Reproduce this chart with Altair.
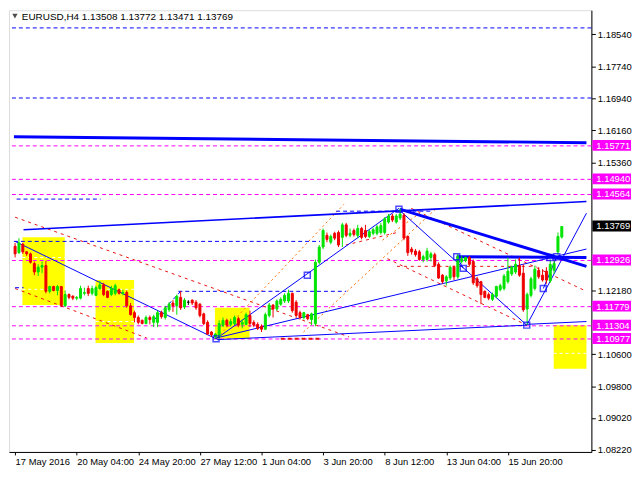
import altair as alt
import pandas as pd

# ---------------- candle data (H4 bars, index 0 = 17 May 2016 00:00) ----------------
opens = [1.1328, 1.1312, 1.1333, 1.1314, 1.1309, 1.1285, 1.1264, 1.1276, 1.1280, 1.1216,
         1.1228, 1.1218, 1.1228, 1.1180, 1.1208, 1.1204, 1.1199, 1.1199, 1.1211, 1.1223,
         1.1211, 1.1206, 1.1223, 1.1232, 1.1216, 1.1208, 1.1211, 1.1220, 1.1211, 1.1213,
         1.1180, 1.1163, 1.1151, 1.1144, 1.1136, 1.1151, 1.1139, 1.1139, 1.1163, 1.1151,
         1.1170, 1.1187, 1.1180, 1.1201, 1.1177, 1.1189, 1.1194, 1.1189, 1.1184, 1.1160,
         1.1139, 1.1115, 1.1103, 1.1103, 1.1132, 1.1144, 1.1134, 1.1136, 1.1148, 1.1134,
         1.1134, 1.1156, 1.1139, 1.1134, 1.1129, 1.1122, 1.1156, 1.1182, 1.1172, 1.1184,
         1.1192, 1.1192, 1.1211, 1.1189, 1.1163, 1.1151, 1.1158, 1.1146, 1.1136, 1.1288,
         1.1326, 1.1355, 1.1338, 1.1360, 1.1362, 1.1350, 1.1381, 1.1355, 1.1367, 1.1355,
         1.1372, 1.1367, 1.1352, 1.1360, 1.1360, 1.1362, 1.1362, 1.1388, 1.1403, 1.1388,
         1.1398, 1.1405, 1.1352, 1.1321, 1.1316, 1.1314, 1.1295, 1.1295, 1.1300, 1.1307,
         1.1283, 1.1256, 1.1242, 1.1249, 1.1276, 1.1252, 1.1290, 1.1292, 1.1300, 1.1290,
         1.1247, 1.1240, 1.1216, 1.1208, 1.1196, 1.1204, 1.1220, 1.1223, 1.1240, 1.1259,
         1.1264, 1.1280, 1.1261, 1.1172, 1.1206, 1.1223, 1.1268, 1.1256, 1.1266, 1.1242,
         1.1268, 1.1314, 1.13508]
closes = [1.1309, 1.1336, 1.1314, 1.1309, 1.1288, 1.1264, 1.1276, 1.1280, 1.1216, 1.1228,
          1.1218, 1.1228, 1.1180, 1.1208, 1.1201, 1.1199, 1.1201, 1.1223, 1.1213, 1.1211,
          1.1223, 1.1225, 1.1232, 1.1208, 1.1201, 1.1223, 1.1230, 1.1211, 1.1213, 1.1180,
          1.1158, 1.1151, 1.1139, 1.1136, 1.1151, 1.1146, 1.1153, 1.1163, 1.1153, 1.1175,
          1.1184, 1.1180, 1.1204, 1.1175, 1.1194, 1.1189, 1.1187, 1.1175, 1.1156, 1.1136,
          1.1110, 1.1108, 1.1110, 1.1136, 1.1144, 1.1132, 1.1141, 1.1151, 1.1132, 1.1139,
          1.1158, 1.1136, 1.1132, 1.1124, 1.1122, 1.1158, 1.1182, 1.1172, 1.1192, 1.1196,
          1.1206, 1.1211, 1.1168, 1.1156, 1.1151, 1.1163, 1.1148, 1.1160, 1.1288, 1.1326,
          1.1367, 1.1345, 1.1352, 1.1348, 1.1331, 1.1381, 1.1355, 1.1360, 1.1357, 1.1372,
          1.1350, 1.1352, 1.1364, 1.1369, 1.1376, 1.1379, 1.1396, 1.1403, 1.1393, 1.1403,
          1.1408, 1.1348, 1.1312, 1.1314, 1.1307, 1.1295, 1.1302, 1.1316, 1.1309, 1.1280,
          1.1249, 1.1240, 1.1252, 1.1276, 1.1252, 1.1302, 1.1297, 1.1300, 1.1283, 1.1237,
          1.1230, 1.1208, 1.1201, 1.1199, 1.1208, 1.1228, 1.1230, 1.1254, 1.1266, 1.1276,
          1.1283, 1.1256, 1.1170, 1.1208, 1.1247, 1.1271, 1.1252, 1.1244, 1.1244, 1.1283,
          1.1285, 1.1352, 1.13769]
highs = [1.1336, 1.1348, 1.1336, 1.1316, 1.1312, 1.1290, 1.1283, 1.1290, 1.1292, 1.1230,
         1.1230, 1.1232, 1.1228, 1.1218, 1.1211, 1.1206, 1.1204, 1.1230, 1.1225, 1.1230,
         1.1230, 1.1230, 1.1242, 1.1237, 1.1218, 1.1230, 1.1235, 1.1223, 1.1220, 1.1218,
         1.1187, 1.1168, 1.1156, 1.1146, 1.1156, 1.1156, 1.1158, 1.1168, 1.1168, 1.1180,
         1.1189, 1.1194, 1.1208, 1.1216, 1.1199, 1.1194, 1.1196, 1.1194, 1.1187, 1.1163,
         1.1144, 1.1117, 1.1112, 1.1144, 1.1151, 1.1148, 1.1148, 1.1156, 1.1153, 1.1146,
         1.1163, 1.1168, 1.1144, 1.1139, 1.1134, 1.1163, 1.1187, 1.1184, 1.1196, 1.1201,
         1.1211, 1.1220, 1.1213, 1.1194, 1.1168, 1.1165, 1.1160, 1.1163, 1.1295, 1.1331,
         1.1372, 1.1362, 1.1357, 1.1364, 1.1367, 1.1386, 1.1386, 1.1372, 1.1372, 1.1381,
         1.1376, 1.1381, 1.1369, 1.1374, 1.1381, 1.1386, 1.1400, 1.1408, 1.1408, 1.1408,
         1.1422, 1.1410, 1.1355, 1.1326, 1.1321, 1.1319, 1.1307, 1.1324, 1.1314, 1.1312,
         1.1288, 1.1259, 1.1256, 1.1280, 1.1280, 1.1309, 1.1304, 1.1302, 1.1304, 1.1295,
         1.1252, 1.1242, 1.1218, 1.1213, 1.1213, 1.1230, 1.1235, 1.1259, 1.1300, 1.1280,
         1.1295, 1.1300, 1.1283, 1.1213, 1.1252, 1.1280, 1.1276, 1.1271, 1.1276, 1.1295,
         1.1292, 1.1362, 1.13772]
lows = [1.1300, 1.1309, 1.1309, 1.1304, 1.1285, 1.1256, 1.1254, 1.1261, 1.1211, 1.1211,
        1.1216, 1.1206, 1.1177, 1.1177, 1.1196, 1.1194, 1.1194, 1.1196, 1.1206, 1.1204,
        1.1206, 1.1204, 1.1220, 1.1204, 1.1199, 1.1204, 1.1206, 1.1208, 1.1206, 1.1175,
        1.1156, 1.1139, 1.1134, 1.1134, 1.1134, 1.1134, 1.1127, 1.1127, 1.1148, 1.1146,
        1.1165, 1.1165, 1.1158, 1.1170, 1.1172, 1.1182, 1.1182, 1.1170, 1.1151, 1.1132,
        1.1108, 1.1103, 1.1098, 1.1100, 1.1127, 1.1127, 1.1129, 1.1132, 1.1127, 1.1124,
        1.1132, 1.1127, 1.1127, 1.1120, 1.1115, 1.1120, 1.1151, 1.1151, 1.1168, 1.1180,
        1.1187, 1.1187, 1.1163, 1.1151, 1.1146, 1.1146, 1.1144, 1.1132, 1.1129, 1.1283,
        1.1321, 1.1338, 1.1333, 1.1343, 1.1326, 1.1326, 1.1350, 1.1350, 1.1352, 1.1348,
        1.1345, 1.1348, 1.1348, 1.1355, 1.1355, 1.1357, 1.1357, 1.1384, 1.1388, 1.1384,
        1.1393, 1.1343, 1.1304, 1.1307, 1.1302, 1.1292, 1.1288, 1.1290, 1.1290, 1.1276,
        1.1247, 1.1235, 1.1230, 1.1244, 1.1244, 1.1247, 1.1285, 1.1288, 1.1278, 1.1232,
        1.1225, 1.1184, 1.1199, 1.1194, 1.1192, 1.1199, 1.1216, 1.1218, 1.1235, 1.1254,
        1.1259, 1.1252, 1.1165, 1.1132, 1.1201, 1.1218, 1.1247, 1.1240, 1.1235, 1.1237,
        1.1259, 1.1307, 1.13471]

# ---------------- axis ticks ----------------
x_tick_idx = [0, 16, 32, 48, 64, 80, 96, 112, 128]
x_tick_lbl = ["17 May 2016", "20 May 04:00", "24 May 20:00", "27 May 12:00", "1 Jun 04:00",
              "3 Jun 20:00", "8 Jun 12:00", "13 Jun 04:00", "15 Jun 20:00"]
y_ticks = [1.0822, 1.0902, 1.0980, 1.1060, 1.1218, 1.1536, 1.1616, 1.1694, 1.1774, 1.1854]

# ---------------- horizontal levels ----------------
magenta_levels = [1.15771, 1.14940, 1.14564, 1.12926, 1.11779, 1.11304, 1.10977]
blue_dash_levels = [1.1870, 1.1696]
current_price = [1.13769]

# ---------------- trend segments: (bar index, price) -> (bar index, price) ----------------
blue_thick = [(-0.3, 1.1600, 148.4, 1.1585), (99.9, 1.1420, 148.4, 1.1278), (114.7, 1.1302, 148.4, 1.1300)]
blue_mid = [(2.2, 1.1369, 148.4, 1.1439)]
blue_thin = [(0.0, 1.1340, 52.2, 1.1098), (52.2, 1.1098, 99.7, 1.1422), (52.2, 1.1100, 148.4, 1.1321),
             (52.4, 1.1096, 132.9, 1.1132), (132.9, 1.1134, 148.4, 1.1141), (99.9, 1.1417, 132.9, 1.1132),
             (132.9, 1.1132, 148.4, 1.1410), (137.2, 1.1223, 140.7, 1.1302), (114.7, 1.1302, 116.4, 1.1273)]
blue_dashed = [(0.4, 1.1445, 22.2, 1.1445), (-0.3, 1.1340, 79.2, 1.1340), (42.4, 1.1216, 86.0, 1.1216),
               (0.0, 1.1225, 2.2, 1.1225), (83.4, 1.1415, 108.4, 1.1415), (36.2, 1.1146, 43.2, 1.1218)]
red_dashed = [(0.0, 1.1400, 86.7, 1.1103), (0.0, 1.1223, 34.2, 1.1100), (102.9, 1.1422, 148.4, 1.1216),
              (96.7, 1.1297, 132.9, 1.1132), (99.2, 1.1278, 135.4, 1.1278), (85.9, 1.1331, 99.2, 1.1362)]
red_thick_dashed = [(69.0, 1.1098, 79.2, 1.1098)]
orange_dotted = [(52.4, 1.1100, 85.4, 1.1432), (74.9, 1.1115, 109.2, 1.1420), (95.4, 1.1343, 105.4, 1.1412)]
white_dashed = [(1.9, 1.1300, 12.9, 1.1300), (1.9, 1.1221, 12.9, 1.1221), (20.9, 1.1221, 30.9, 1.1221),
                (20.9, 1.1141, 30.9, 1.1141), (139.9, 1.1062, 148.4, 1.1062)]

# ---------------- zones and pivots ----------------
zones = [(1.9, 1.1350, 12.9, 1.1182), (20.9, 1.1244, 30.9, 1.1088),
         (51.9, 1.1175, 60.9, 1.1098), (139.9, 1.1132, 148.4, 1.1024)]
pivot_i = [52.2, 75.9, 99.7, 114.7, 116.4, 132.9, 137.2, 138.9, 140.7]
pivot_p = [1.1098, 1.1256, 1.1420, 1.1302, 1.1273, 1.1132, 1.1223, 1.1300, 1.1302]

# ---------------- build ----------------
W, H = 588, 446
xs = alt.Scale(domain=[-0.3, 148.4], nice=False, zero=False)
ys = alt.Scale(domain=[1.08172, 1.19140], nice=False, zero=False)
FONT = "Liberation Sans"

lbl_expr = "[" + ",".join("'%s'" % s for s in x_tick_lbl) + "][indexof([" + \
           ",".join(str(v) for v in x_tick_idx) + "], datum.value)]"
x_axis = alt.Axis(orient="bottom", values=x_tick_idx, labelExpr=lbl_expr, title=None, grid=False,
                  tickSize=3, tickColor="black", domainColor="black", labelColor="black",
                  labelAlign="left", labelBaseline="top", labelPadding=2, labelFontSize=9.5,
                  labelFont=FONT, labelOverlap=False, labelFlush=False, labelBound=False)
y_axis = alt.Axis(orient="right", values=y_ticks, format=".5f", title=None, grid=False,
                  tickSize=4, tickColor="black", domainColor="black", labelColor="black",
                  labelFontSize=9.5, labelFont=FONT, labelPadding=2, labelOverlap=False,
                  labelFlush=False, labelBaseline="middle")


def X(f):
    return alt.X(f, type="quantitative", scale=xs, axis=x_axis)


def Y(f):
    return alt.Y(f, type="quantitative", scale=ys, axis=y_axis)


def seg_df(segs):
    return pd.DataFrame(segs, columns=["x1", "y1", "x2", "y2"])


def seg_layer(segs, color, width, dash=None):
    kw = dict(color=color, strokeWidth=width)
    if dash:
        kw["strokeDash"] = dash
    return alt.Chart(seg_df(segs)).mark_rule(**kw).encode(
        x=X("x1"), x2="x2", y=Y("y1"), y2="y2")


df = pd.DataFrame({"i": list(range(len(opens))), "o": opens, "h": highs, "l": lows, "c": closes})
df["dir"] = ["up" if c > o else ("down" if c < o else "doji") for o, c in zip(opens, closes)]
cscale = alt.Scale(domain=["up", "down", "doji"], range=["#00E400", "#F00000", "#000000"])

zone_layer = alt.Chart(seg_df(zones)).mark_rect(color="#FFFF00").encode(
    x=X("x1"), x2="x2", y=Y("y1"), y2="y2")
white_layer = seg_layer(white_dashed, "white", 1, [3, 3])
mag_layer = alt.Chart(pd.DataFrame({"p": magenta_levels})).mark_rule(
    color="#FF00FF", strokeWidth=1, strokeDash=[4, 3]).encode(y=Y("p"))
bdl_layer = alt.Chart(pd.DataFrame({"p": blue_dash_levels})).mark_rule(
    color="#0000FF", strokeWidth=1, strokeDash=[4, 3]).encode(y=Y("p"))

wicks = alt.Chart(df).mark_rule(strokeWidth=1).encode(
    x=X("i"), y=Y("l"), y2="h", color=alt.Color("dir:N", scale=cscale, legend=None))
bodies = alt.Chart(df).mark_bar(size=2, strokeWidth=1).encode(
    x=X("i"), y=Y("o"), y2="c",
    color=alt.Color("dir:N", scale=cscale, legend=None),
    stroke=alt.Stroke("dir:N", scale=cscale, legend=None))

pivots = alt.Chart(pd.DataFrame({"i": pivot_i, "p": pivot_p})).mark_point(
    shape="square", filled=False, color="#0000FF", size=36, strokeWidth=1.5).encode(x=X("i"), y=Y("p"))

lab_df = pd.DataFrame({"p": magenta_levels, "t": ["%.5f" % v for v in magenta_levels]})
cur_df = pd.DataFrame({"p": current_price, "t": ["%.5f" % v for v in current_price]})
lab_box = alt.Chart(lab_df).mark_rect(color="#FF00FF", yOffset=-6, y2Offset=5).encode(
    x=alt.value(W + 1), x2=alt.value(W + 40), y=Y("p"), y2="p")
lab_txt = alt.Chart(lab_df).mark_text(align="left", baseline="middle", color="white",
                                      fontSize=9.5, font=FONT).encode(
    x=alt.value(W + 5), y=Y("p"), text="t:N")
cur_box = alt.Chart(cur_df).mark_rect(color="black", yOffset=-6, y2Offset=5).encode(
    x=alt.value(W + 1), x2=alt.value(W + 40), y=Y("p"), y2="p")
cur_txt = alt.Chart(cur_df).mark_text(align="left", baseline="middle", color="white",
                                      fontSize=9.5, font=FONT).encode(
    x=alt.value(W + 5), y=Y("p"), text="t:N")

title_tri = alt.Chart(pd.DataFrame({"k": [0]})).mark_point(
    shape="triangle-down", filled=True, color="black", size=28).encode(x=alt.value(6), y=alt.value(6))
title_txt = alt.Chart(pd.DataFrame({"t": ["EURUSD,H4  1.13508 1.13772 1.13471 1.13769"]})).mark_text(
    align="left", baseline="middle", fontSize=10, font=FONT, color="black").encode(
    x=alt.value(13), y=alt.value(6.5), text="t:N")

chart = alt.layer(
    zone_layer, white_layer, mag_layer, bdl_layer,
    seg_layer(red_dashed, "#E81010", 1, [3, 4]),
    seg_layer(red_thick_dashed, "#E81010", 2, [4, 3]),
    seg_layer(orange_dotted, "#FF6A00", 1, [2, 3]),
    seg_layer(blue_dashed, "#0000FF", 1, [4, 3]),
    seg_layer(blue_thin, "#0000FF", 1),
    seg_layer(blue_mid, "#0000FF", 1.6),
    seg_layer(blue_thick, "#0000FF", 3),
    wicks, bodies, pivots,
    lab_box, lab_txt, cur_box, cur_txt, title_tri, title_txt,
).properties(
    width=W, height=H,
    padding={"left": 0, "top": 0, "right": 0, "bottom": 0},
).configure_view(stroke="black", strokeWidth=1).configure(background="white")

chart.save("out.html", embed_options={"renderer": "svg", "actions": False})
